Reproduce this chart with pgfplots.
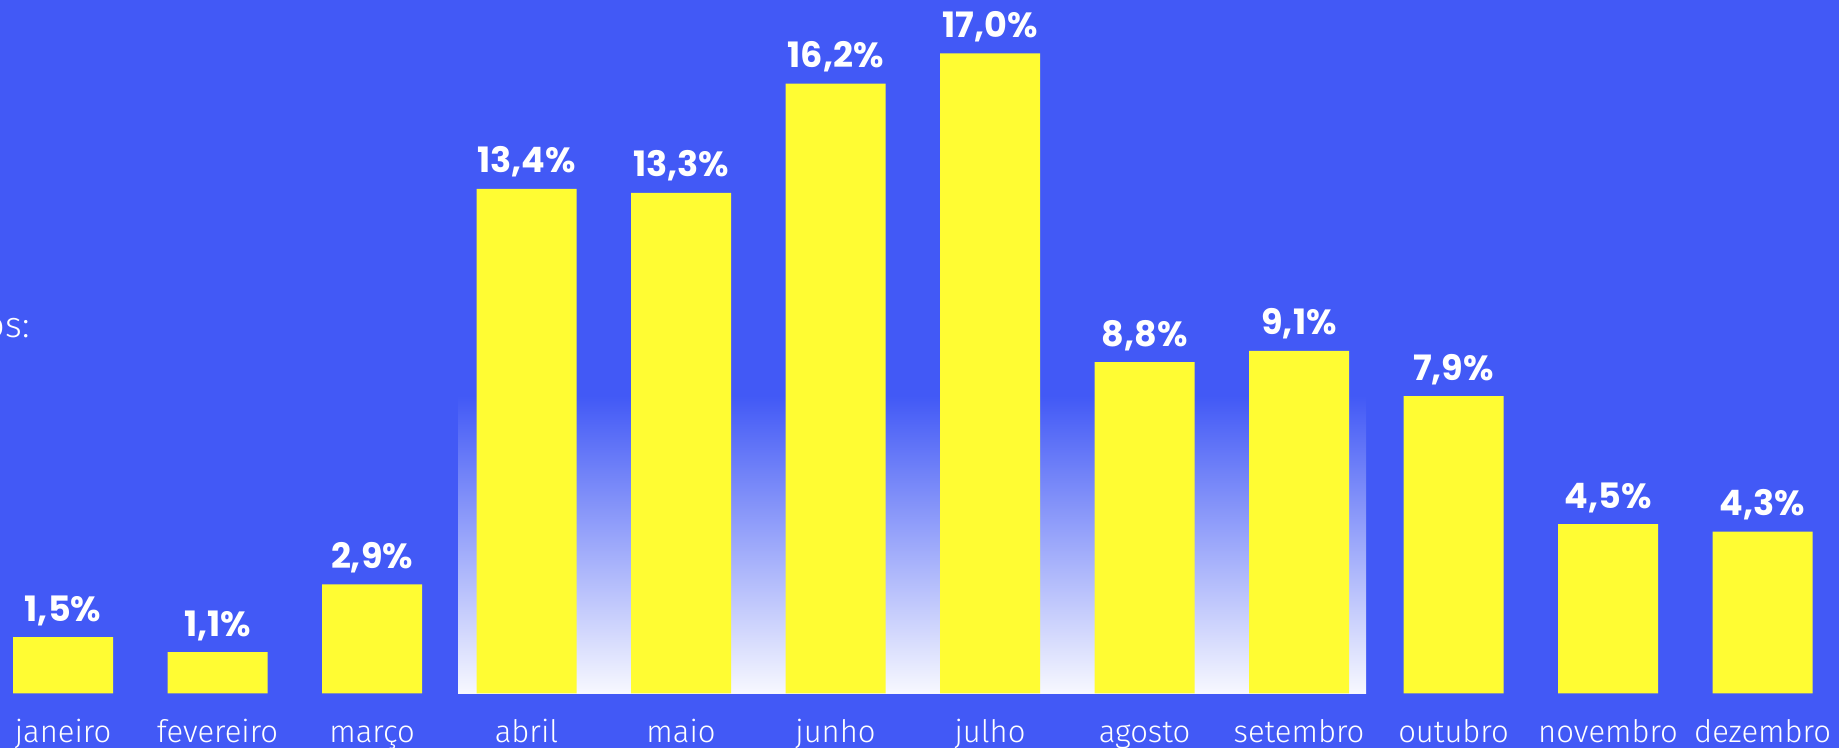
\documentclass[border=0pt]{standalone}
\usepackage{pgfplots}
\pgfplotsset{compat=1.18}
\usepackage{fontspec}
\newfontfamily\lightfont{Fira Sans Light}
\newfontfamily\valfont{Poppins}
\definecolor{bgblue}{RGB}{66,89,246}
\definecolor{baryellow}{RGB}{255,252,51}
\begin{document}
\begin{tikzpicture}
\fill[bgblue] (0,0) rectangle (919.5pt,374pt);
\begin{axis}[
  at={(0,0)}, anchor=south west,
  scale only axis, width=919.5pt, height=374pt,
  xmin=-0.4078, xmax=11.495, ymin=-1.448, ymax=18.42,
  axis line style={draw=none},
  xtick={0,...,11},
  xticklabels={janeiro,fevereiro,março,abril,maio,junho,julho,agosto,setembro,outubro,novembro,dezembro},
  xticklabel style={font=\lightfont\fontsize{15.5}{18}\selectfont, text=white, anchor=base, yshift=2.5pt},
  xtick style={draw=none},
  ytick=\empty,
  clip=false,
]
\addplot[draw=none, bottom color=white!96!bgblue, top color=bgblue, forget plot]
  coordinates {(2.557,7.9) (8.434,7.9)} \closedcycle;
\addplot[ybar, bar width=50pt, bar shift=0pt, fill=baryellow, draw=none,
  point meta=explicit symbolic,
  nodes near coords={\pgfplotspointmeta},
  every node near coord/.append style={font=\valfont\bfseries\fontsize{17.5}{20}\selectfont, text=white, anchor=base, yshift=8pt, inner sep=0pt}]
  coordinates {
  (0,1.5) [1,5\%]
  (1,1.1) [1,1\%]
  (2,2.9) [2,9\%]
  (3,13.4) [13,4\%]
  (4,13.3) [13,3\%]
  (5,16.2) [16,2\%]
  (6,17.0) [17,0\%]
  (7,8.8) [8,8\%]
  (8,9.1) [9,1\%]
  (9,7.9) [7,9\%]
  (10,4.5) [4,5\%]
  (11,4.3) [4,3\%]
  };
\end{axis}
\node[anchor=base east, text=white, font=\lightfont\fontsize{18}{20}\selectfont, inner sep=0pt] at (15pt,205pt) {os:};
\pgfresetboundingbox
\useasboundingbox (0,0) rectangle (919.5pt,374pt);
\end{tikzpicture}
\end{document}
